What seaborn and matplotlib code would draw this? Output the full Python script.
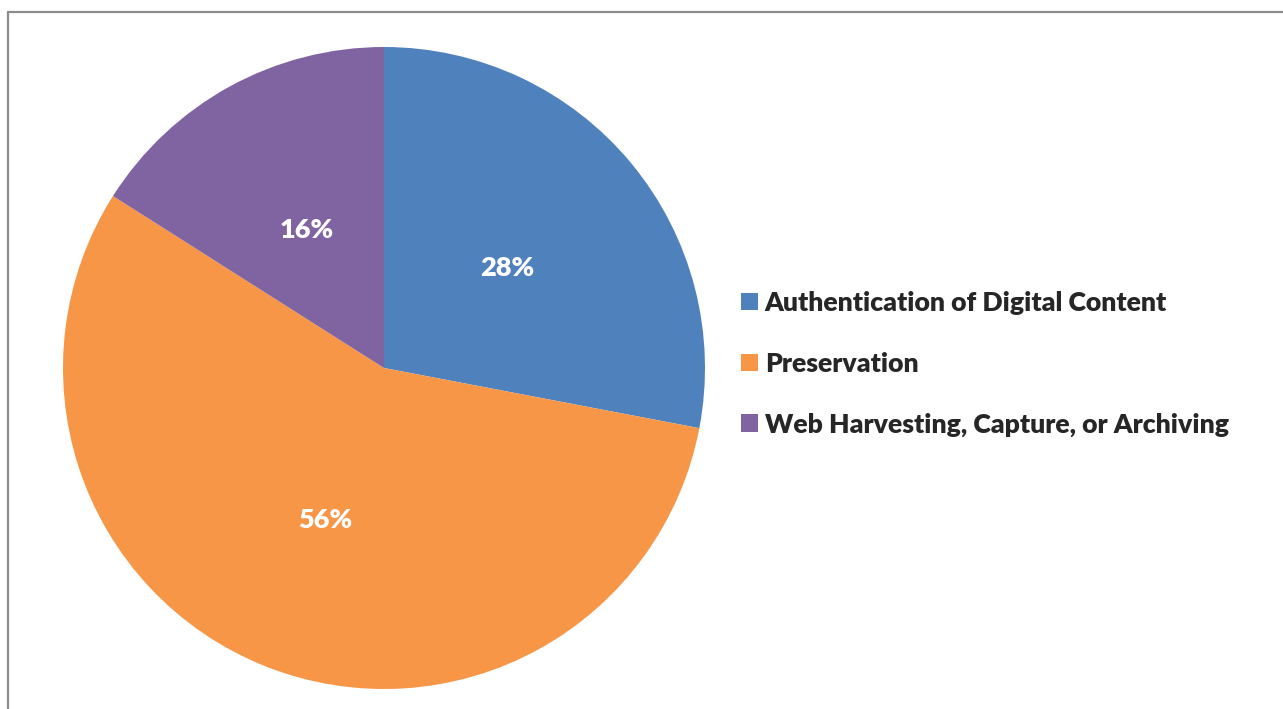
import matplotlib
matplotlib.use("Agg")
import matplotlib.pyplot as plt
import matplotlib.patches as mpatches
from matplotlib.lines import Line2D
import seaborn as sns

categories = ["Authentication of Digital Content", "Preservation", "Web Harvesting, Capture, or Archiving"]
shares = [28, 56, 16]
colors = ["#4F81BD", "#F79646", "#8064A2"]

sns.set_theme(style="white")
plt.rcParams['font.family'] = ['Lato', 'DejaVu Sans']

W, H = 1283, 709
fig = plt.figure(figsize=(W / 100, H / 100), dpi=100)
fig.patch.set_facecolor("white")

# pie axes, centre (384, 368) px, radius ~321 px
cx, cy, r = 384, 368, 321
ax = fig.add_axes([(cx - r) / W, (H - cy - r) / H, 2 * r / W, 2 * r / H])
wedges, texts, autotexts = ax.pie(
    shares, colors=colors, startangle=90, counterclock=False,
    autopct=lambda p: f"{p:.0f}%", pctdistance=0.5, radius=1,
    wedgeprops=dict(linewidth=0, edgecolor="none"),
    textprops=dict(color="white", fontsize=19.5, fontweight="heavy"),
)
for t in autotexts:
    x, y = t.get_position()
    t.set_position((x, y - 0.008))
ax.set_xlim(-1, 1)
ax.set_ylim(-1, 1)
ax.set_aspect("equal")
ax.axis("off")

handles = [mpatches.Patch(color=c, label=l, linewidth=0) for c, l in zip(colors, categories)]
leg = fig.legend(handles=handles, loc="center left", bbox_to_anchor=(741 / W, 1 - 364 / H),
                 frameon=False, handlelength=0.64, handleheight=0.64, handletextpad=0.25,
                 labelspacing=1.38, borderpad=0, borderaxespad=0,
                 prop=dict(size=19.2, weight="heavy"))

# outer frame lines (top and left)
fig.add_artist(Line2D([7.5 / W, 1.0], [1 - 11.5 / H, 1 - 11.5 / H], color="#8c8c8c", lw=1.6))
fig.add_artist(Line2D([7.5 / W, 7.5 / W], [0, 1 - 11.5 / H], color="#8c8c8c", lw=1.6))

fig.savefig("out.png", dpi=100, facecolor="white")
